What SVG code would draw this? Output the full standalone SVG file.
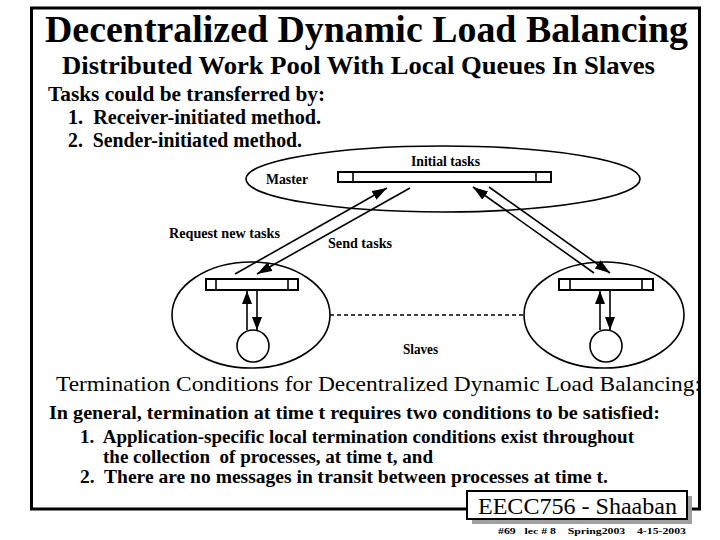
<svg xmlns="http://www.w3.org/2000/svg" width="720" height="540" viewBox="0 0 720 540">
<defs>
<style>
.ln{stroke:#000;stroke-width:1.6;fill:none}
.sh{fill:none;stroke:#000;stroke-width:1.6}
.bar{fill:#fff;stroke:#000;stroke-width:2}
.pre{white-space:pre}
</style>
<marker id="ah" markerUnits="userSpaceOnUse" markerWidth="16" markerHeight="12" refX="15" refY="5" orient="auto">
<path d="M0,0 L15,5 L0,10 Z" fill="#000"/>
</marker>
<marker id="ahs" markerUnits="userSpaceOnUse" markerWidth="14" markerHeight="12" refX="13" refY="5" orient="auto">
<path d="M0,0 L13,5 L0,10 Z" fill="#000"/>
</marker>
</defs>
<rect width="720" height="540" fill="#fff"/>
<rect x="31.5" y="8" width="668" height="501" fill="none" stroke="#000" stroke-width="3"/>

<g id="heading">
<text style="font-family:'Liberation Serif',serif;font-weight:bold;font-size:38px" x="45" y="42" textLength="643" lengthAdjust="spacingAndGlyphs">Decentralized Dynamic Load Balancing</text>
<text style="font-family:'Liberation Serif',serif;font-weight:bold;font-size:26px" x="62" y="74" textLength="593" lengthAdjust="spacingAndGlyphs">Distributed Work Pool With Local Queues In Slaves</text>
<text style="font-family:'Liberation Serif',serif;font-weight:bold;font-size:20px" x="48" y="101" textLength="277" lengthAdjust="spacingAndGlyphs">Tasks could be transferred by:</text>
<text class="pre" style="font-family:'Liberation Serif',serif;font-weight:bold;font-size:20px" x="68" y="124" textLength="253" lengthAdjust="spacingAndGlyphs">1.  Receiver-initiated method.</text>
<text class="pre" style="font-family:'Liberation Serif',serif;font-weight:bold;font-size:20px" x="68" y="147" textLength="234" lengthAdjust="spacingAndGlyphs">2.  Sender-initiated method.</text>
</g>

<g id="master">
<ellipse cx="443" cy="179" rx="197" ry="33" class="sh"/>
<rect x="338" y="172" width="213" height="10" class="bar"/>
<line x1="353" y1="172" x2="353" y2="182" class="ln" stroke-width="2"/>
<line x1="536" y1="172" x2="536" y2="182" class="ln" stroke-width="2"/>
<text style="font-family:'Liberation Serif',serif;font-weight:bold;font-size:14px" x="411" y="166" textLength="69" lengthAdjust="spacingAndGlyphs">Initial tasks</text>
<text style="font-family:'Liberation Serif',serif;font-weight:bold;font-size:14px" x="266" y="184" textLength="42" lengthAdjust="spacingAndGlyphs">Master</text>
</g>

<g id="slave-left">
<ellipse cx="251" cy="315" rx="79" ry="53" class="sh"/>
<rect x="206" y="279" width="92" height="11" class="bar"/>
<line x1="216" y1="279" x2="216" y2="290" class="ln" stroke-width="2"/>
<line x1="288" y1="279" x2="288" y2="290" class="ln" stroke-width="2"/>
<circle cx="253" cy="346" r="16" class="sh"/>
</g>

<g id="slave-right">
<ellipse cx="604" cy="315" rx="80" ry="53" class="sh"/>
<rect x="559" y="279" width="94" height="11" class="bar"/>
<line x1="570" y1="279" x2="570" y2="290" class="ln" stroke-width="2"/>
<line x1="642" y1="279" x2="642" y2="290" class="ln" stroke-width="2"/>
<circle cx="606" cy="346" r="16" class="sh"/>
</g>

<g id="labels">
<text style="font-family:'Liberation Serif',serif;font-weight:bold;font-size:14px" x="169" y="238" textLength="111" lengthAdjust="spacingAndGlyphs">Request new tasks</text>
<text style="font-family:'Liberation Serif',serif;font-weight:bold;font-size:14px" x="328" y="248" textLength="64" lengthAdjust="spacingAndGlyphs">Send tasks</text>
<text style="font-family:'Liberation Serif',serif;font-weight:bold;font-size:14px" x="403" y="354" textLength="35" lengthAdjust="spacingAndGlyphs">Slaves</text>
</g>

<g id="connectors">
<line x1="235" y1="274" x2="387" y2="188" class="ln" marker-end="url(#ah)"/>
<line x1="410" y1="188" x2="257" y2="274" class="ln" marker-end="url(#ah)"/>
<line x1="594" y1="273" x2="473" y2="187" class="ln" marker-end="url(#ah)"/>
<line x1="489" y1="187" x2="610" y2="273" class="ln" marker-end="url(#ah)"/>
<line x1="247" y1="330" x2="247" y2="291" class="ln" marker-end="url(#ahs)"/>
<line x1="257" y1="290" x2="257" y2="330" class="ln" marker-end="url(#ahs)"/>
<line x1="600" y1="330" x2="600" y2="291" class="ln" marker-end="url(#ahs)"/>
<line x1="610" y1="290" x2="610" y2="330" class="ln" marker-end="url(#ahs)"/>
<line x1="330" y1="315" x2="524" y2="315" class="ln" stroke-dasharray="4,3"/>
</g>

<g id="termination">
<text style="font-family:'Liberation Serif',serif;font-size:21px" x="56" y="391" textLength="645" lengthAdjust="spacingAndGlyphs">Termination Conditions for Decentralized Dynamic Load Balancing:</text>
<text style="font-family:'Liberation Serif',serif;font-weight:bold;font-size:18px" x="49" y="419" textLength="611" lengthAdjust="spacingAndGlyphs">In general, termination at time t requires two conditions to be satisfied:</text>
<text class="pre" style="font-family:'Liberation Serif',serif;font-weight:bold;font-size:18px" x="80" y="443" textLength="554" lengthAdjust="spacingAndGlyphs">1.  Application-specific local termination conditions exist throughout</text>
<text class="pre" style="font-family:'Liberation Serif',serif;font-weight:bold;font-size:18px" x="103" y="463" textLength="330" lengthAdjust="spacingAndGlyphs">the collection  of processes, at time t, and</text>
<text class="pre" style="font-family:'Liberation Serif',serif;font-weight:bold;font-size:18px" x="80" y="483" textLength="528" lengthAdjust="spacingAndGlyphs">2.  There are no messages in transit between processes at time t.</text>
</g>

<g id="footer">
<rect x="472" y="496" width="220" height="28" fill="#a0a0a0"/>
<rect x="467" y="491" width="220" height="28" fill="#fff" stroke="#000" stroke-width="2"/>
<text style="font-family:'Liberation Serif',serif;font-size:24px" x="478" y="514" textLength="199" lengthAdjust="spacingAndGlyphs">EECC756 - Shaaban</text>
<text class="pre" style="font-family:'Liberation Serif',serif;font-weight:bold;font-size:9px" x="498" y="534" textLength="188" lengthAdjust="spacingAndGlyphs">#69   lec # 8    Spring2003    4-15-2003</text>
</g>
</svg>
